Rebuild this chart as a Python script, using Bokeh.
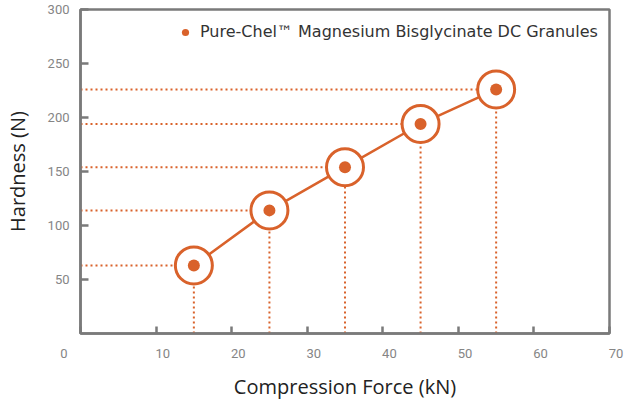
import numpy as np
from bokeh.plotting import figure
from bokeh.models import Range1d, FixedTicker, Legend, LegendItem, ColumnDataSource
from bokeh.embed import file_html
from bokeh.resources import INLINE

# ---- data ----
force = [15, 25, 35, 45, 55]            # Compression Force (kN)
hardness = [63, 114, 154, 194, 226]     # Hardness (N)
x_tick_labels = [0, 10, 20, 30, 40, 50, 60, 70]
y_tick_labels = [50, 100, 150, 200, 250, 300]
series_name = "Pure-Chel\u2122 Magnesium Bisglycinate DC Granules"
x_title = "Compression Force (kN)"
y_title = "Hardness (N)"

ORANGE = "#d9622b"
GRAY = "#7a7a7a"
TICK_GRAY = "#858585"
TITLE_COLOR = "#222222"

x0, x1 = 0, 70
y0, y1 = 0, 300

p = figure(width=624, height=402, output_backend="svg", toolbar_location=None,
           x_range=Range1d(x0, x1), y_range=Range1d(y0, y1),
           min_border_left=80, min_border_right=15, min_border_top=9, min_border_bottom=69)

p.xgrid.visible = False
p.ygrid.visible = False
p.outline_line_color = GRAY
p.outline_line_width = 2.5
p.background_fill_color = "white"
p.border_fill_color = "white"

for ax, ticks, tin in ((p.xaxis[0], x_tick_labels, 7), (p.yaxis[0], y_tick_labels, 8)):
    ax.ticker = FixedTicker(ticks=ticks)
    ax.major_tick_in = tin
    ax.major_tick_out = 0
    ax.minor_tick_line_color = None
    ax.axis_line_color = GRAY
    ax.axis_line_width = 2.5
    ax.major_tick_line_color = GRAY
    ax.major_tick_line_width = 2.5
    ax.major_label_text_font = "Roboto"
    ax.major_label_text_font_size = "13px"
    ax.major_label_text_color = TICK_GRAY
    ax.axis_label_text_font = "Open Sans"
    ax.axis_label_text_font_size = "20px"
    ax.axis_label_text_font_style = "normal"
    ax.axis_label_text_color = TITLE_COLOR

# x tick labels sit a little right of their ticks in the reference ("0" sits left of the corner)
EN = "\u2002"
p.xaxis.major_label_overrides = {
    v: (str(v) + EN * 5 if v == x0 else EN * 2 + str(v)) for v in x_tick_labels
}
p.xaxis.axis_label = x_title
p.xaxis.major_label_standoff = 12
p.xaxis.axis_label_standoff = 9

p.yaxis.axis_label = y_title
p.yaxis.major_label_standoff = 11
p.yaxis.axis_label_standoff = 14

src = ColumnDataSource(dict(x=force, y=hardness, zx=[x0] * len(force), zy=[y0] * len(force)))

# dotted guide lines
p.segment(x0="zx", y0="y", x1="x", y1="y", source=src, line_color=ORANGE,
          line_width=2, line_dash="2 3")
p.segment(x0="x", y0="zy", x1="x", y1="y", source=src, line_color=ORANGE,
          line_width=2, line_dash="2 3")

# connecting line
p.line("x", "y", source=src, line_color=ORANGE, line_width=2.5)
# rings
p.scatter("x", "y", source=src, marker="circle", size=37, fill_color="white",
          line_color=ORANGE, line_width=3)
# inner dots
dots = p.scatter("x", "y", source=src, marker="circle", size=12, fill_color=ORANGE,
                 line_color=None)

legend = Legend(items=[LegendItem(label=series_name, renderers=[dots])],
                location=(96, 292))
legend.border_line_color = None
legend.background_fill_alpha = 0
legend.padding = 0
legend.margin = 0
legend.glyph_width = 18
legend.glyph_height = 18
legend.label_standoff = 6
legend.label_text_font = "DejaVu Sans"
legend.label_text_font_size = "16px"
legend.label_text_color = "#333333"
p.add_layout(legend)

open("out.html", "w").write(file_html(p, INLINE))
